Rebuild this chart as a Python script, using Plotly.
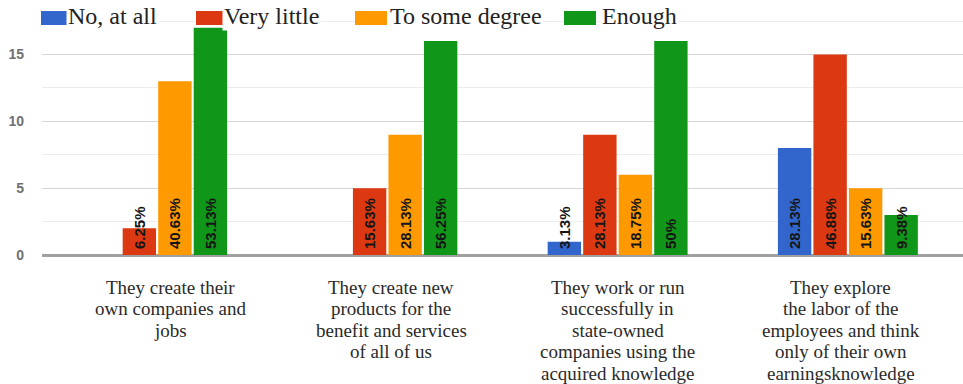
import plotly.graph_objects as go

# Survey answers (counts out of 32 respondents) per statement
category_lines = [
    ["They create their", "own companies and", "jobs"],
    ["They create new", "products for the", "benefit and services", "of all of us"],
    ["They work or run", "successfully in", "state-owned", "companies using the", "acquired knowledge"],
    ["They explore", "the labor of the", "employees and think", "only of their own", "earningsknowledge"],
]
categories = [" ".join(lines) for lines in category_lines]

series_names = ["No, at all", "Very little", "To some degree", "Enough"]
no_at_all = [0, 0, 1, 8]
very_little = [2, 5, 9, 15]
to_some_degree = [13, 9, 6, 5]
enough = [17, 16, 16, 3]

no_at_all_labels = ["", "", "3.13%", "28.13%"]
very_little_labels = ["6.25%", "15.63%", "28.13%", "46.88%"]
to_some_degree_labels = ["40.63%", "28.13%", "18.75%", "15.63%"]
enough_labels = ["53.13%", "56.25%", "50%", "9.38%"]

y_ticks = [0, 5, 10, 15]

colors = ["#3366cc", "#dc3912", "#ff9900", "#109618"]
values = [no_at_all, very_little, to_some_degree, enough]
labels = [no_at_all_labels, very_little_labels, to_some_degree_labels, enough_labels]

SERIF = "Times New Roman, Liberation Serif, serif"
SANS = "Arial, Liberation Sans, sans-serif"

W, H = 963, 384
ML, MR, MT, MB = 42, 0, 0, 129
PW, PH = W - ML - MR, H - MT - MB
PX_PER_UNIT = 13.37

fig = go.Figure()
for name, vals, labs, col in zip(series_names, values, labels, colors):
    fig.add_trace(go.Bar(
        name=name, x=categories, y=vals,
        # a thin leading space lifts each label a little off the baseline
        text=[f"\u2009{t}" if t else "" for t in labs],
        textposition="inside", insidetextanchor="start", textangle=-90,
        constraintext="none", cliponaxis=False,
        textfont=dict(family=SANS, size=15, color="#151515", weight="bold"),
        marker=dict(color=col, line=dict(width=0)),
        showlegend=False, hoverinfo="skip",
    ))


def px_x(p):
    return (p - ML) / PW


def px_y(p):
    return 1 - (p - MT) / PH


shapes = []
annotations = []

# Legend: swatch rectangles plus serif labels on white boxes
legend_items = [
    (41, 68, 68), (196, 224, 224), (355, 387, 390), (564, 596, 602),
]
for (x0, x1, tx), name, col in zip(legend_items, series_names, colors):
    annotations.append(dict(
        xref="paper", yref="paper", x=px_x(tx - 2), y=px_y(16),
        xanchor="left", yanchor="middle", showarrow=False, text=name,
        font=dict(family=SERIF, size=24, color="#222222"),
        bgcolor="white", borderpad=1,
    ))
    shapes.append(dict(
        type="rect", xref="paper", yref="paper",
        x0=px_x(x0), x1=px_x(x1), y0=px_y(25), y1=px_y(11),
        fillcolor=col, line=dict(width=0), layer="above",
    ))

# Category labels, one annotation per line
label_shift = [13, 4, 0, -7]
for cat, lines, dx in zip(categories, category_lines, label_shift):
    for i, line in enumerate(lines):
        annotations.append(dict(
            xref="x", yref="paper", x=cat, y=px_y(287 + i * 21.5),
            xanchor="center", yanchor="middle", xshift=dx, showarrow=False,
            text=line, font=dict(family=SERIF, size=19, color="#2a2a2a"),
        ))

fig.update_layout(
    width=W, height=H,
    margin=dict(l=ML, r=MR, t=MT, b=MB, pad=0),
    paper_bgcolor="white", plot_bgcolor="white",
    barmode="group", bargap=0.383, bargroupgap=0.06,
    shapes=shapes, annotations=annotations,
    xaxis=dict(
        showticklabels=False, showgrid=False, zeroline=False, showline=False,
        range=[-0.5, 3.5], fixedrange=True,
    ),
    yaxis=dict(
        range=[0, PH / PX_PER_UNIT], tickvals=y_ticks, ticktext=[str(v) for v in y_ticks],
        showgrid=True, gridcolor="#d6d6d6", gridwidth=1,
        minor=dict(dtick=2.5, tick0=0, showgrid=True, gridcolor="#ececec", gridwidth=1),
        zeroline=True, zerolinecolor="#a0a0a0", zerolinewidth=3,
        tickfont=dict(family=SANS, size=14, color="#707070", weight="bold"),
        ticklabelstandoff=17, showline=False,
    ),
)

fig.write_html("out.html")
